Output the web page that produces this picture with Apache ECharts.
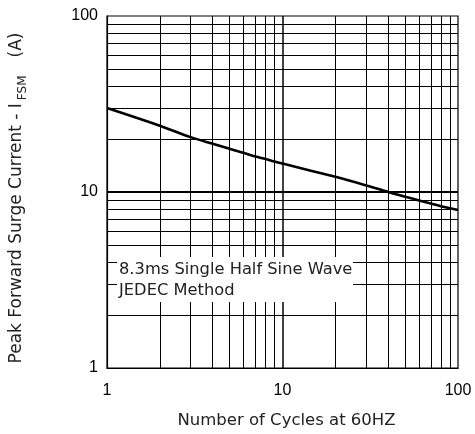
<!DOCTYPE html>
<html>
<head>
<meta charset="utf-8">
<script src="https://cdn.jsdelivr.net/npm/echarts@6/dist/echarts.min.js"></script>
<style>
html,body{margin:0;padding:0;background:#fff;}
#main{width:475px;height:434px;}
</style>
</head>
<body>
<div id="main"></div>
<script>
// Number of cycles at 60 Hz
var cycles = [1, 2, 3, 4, 5, 6, 7, 8, 9, 10, 20, 30, 40, 50, 60, 70, 80, 90, 100];
// Peak forward surge current IFSM (A)
var surgeCurrent = [30, 23.8, 20.5, 18.8, 17.6, 16.7, 15.9, 15.4, 14.9, 14.5, 12.2, 10.9, 10.0, 9.4, 8.95, 8.6, 8.3, 8.08, 7.9];
// grid line values
var xGridValues = [2, 3, 4, 5, 6, 7, 8, 9, 10, 20, 30, 40, 50, 60, 70, 80, 90];
var yGridValues = [2, 3, 4, 5, 6, 7, 8, 9, 10, 20, 30, 40, 50, 60, 70, 80, 90];
var xTickLabels = ['1', '10', '100'];
var yTickLabels = ['1', '10', '100'];
var noteLines = ['8.3ms Single Half Sine Wave', 'JEDEC Method'];
var xTitle = 'Number of Cycles at 60HZ';
var yTitleMain = 'Peak Forward Surge Current - I';
var yTitleSub = 'FSM';
var yTitleUnit = '(A)';

var chart = echarts.init(document.getElementById('main'), null, {renderer: 'canvas'});

var seriesData = cycles.map(function (c, i) { return [c, surgeCurrent[i]]; });

var gridMarks = [];
xGridValues.forEach(function (v) {
  gridMarks.push({xAxis: v, lineStyle: {width: v === 10 ? 1.5 : 1}});
});
yGridValues.forEach(function (v) {
  gridMarks.push({yAxis: v, lineStyle: {width: v === 10 ? 2.2 : 1}});
});

var option = {
  animation: false,
  backgroundColor: '#ffffff',
  grid: {left: 107, right: 17, top: 16, bottom: 65, show: true, borderColor: '#000', borderWidth: 1.2, backgroundColor: 'transparent'},
  xAxis: {
    type: 'log', logBase: 10, min: 1, max: 100,
    axisLine: {show: true, lineStyle: {color: '#000', width: 1.2}},
    axisTick: {show: false},
    splitLine: {show: false},
    axisLabel: {
      color: '#000', fontFamily: 'Liberation Sans, Arial, sans-serif', fontSize: 16, margin: 15,
      formatter: function (v) { var s = String(Math.round(v)); return xTickLabels.indexOf(s) >= 0 ? s : ''; }
    },
    name: xTitle, nameLocation: 'middle', nameGap: 44,
    nameTextStyle: {color: '#222', fontFamily: 'DejaVu Sans, sans-serif', fontSize: 16.5, padding: [0, 0, 0, 8]}
  },
  yAxis: {
    type: 'log', logBase: 10, min: 1, max: 100,
    axisLine: {show: true, lineStyle: {color: '#000', width: 1.2}},
    axisTick: {show: false},
    splitLine: {show: false},
    axisLabel: {
      color: '#000', fontFamily: 'Liberation Sans, Arial, sans-serif', fontSize: 16, margin: 9,
      formatter: function (v) { var s = String(Math.round(v)); return yTickLabels.indexOf(s) >= 0 ? s : ''; }
    },
    name: '{m|' + yTitleMain + '}{s|' + yTitleSub + '}{u|' + yTitleUnit + '}',
    nameLocation: 'middle', nameGap: 78, nameRotate: 90,
    nameTextStyle: {
      color: '#222', fontFamily: 'DejaVu Sans, sans-serif', fontSize: 17, padding: [0, 12, 0, 0],
      rich: {
        m: {fontFamily: 'DejaVu Sans, sans-serif', fontSize: 17, color: '#222'},
        s: {fontFamily: 'DejaVu Sans, sans-serif', fontSize: 12, color: '#222', padding: [12, 0, 0, 3]},
        u: {fontFamily: 'DejaVu Sans, sans-serif', fontSize: 17, color: '#222', padding: [0, 0, 0, 18]}
      }
    }
  },
  series: [
    {
      type: 'line', data: [], silent: true, z: 1,
      markLine: {
        silent: true, symbol: ['none', 'none'], animation: false,
        label: {show: false},
        lineStyle: {color: '#000', type: 'solid', width: 1},
        emphasis: {disabled: true},
        data: gridMarks
      }
    },
    {
      type: 'line', data: seriesData, z: 5,
      showSymbol: false, symbol: 'none', smooth: 0.3,
      lineStyle: {color: '#000', width: 2.6}
    }
  ],
  graphic: [
    {
      type: 'rect', z: 100,
      shape: {x: 117, y: 257, width: 236, height: 45},
      style: {fill: '#fff'}
    },
    {
      type: 'text', z: 101, left: 119, top: 259,
      style: {
        text: noteLines.join('\n'),
        fill: '#222', font: '16.3px "DejaVu Sans", sans-serif', lineHeight: 21
      }
    }
  ]
};
chart.setOption(option);
</script>
</body>
</html>
